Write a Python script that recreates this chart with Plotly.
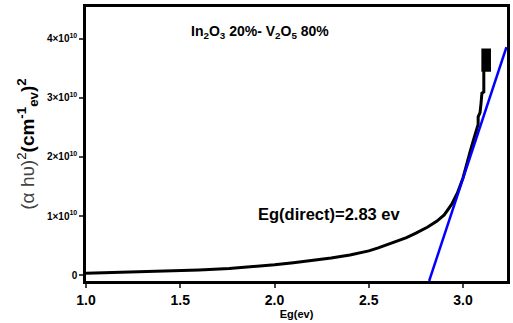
import plotly.graph_objects as go

# Measured curve (alpha h nu)^2 in units of 1e10
eg = [1.0, 1.2, 1.4, 1.6, 1.76, 1.86, 2.0, 2.1, 2.18, 2.3, 2.4, 2.5, 2.55, 2.6, 2.65, 2.7, 2.75,
      2.81, 2.86, 2.9, 2.94, 2.97, 3.0, 3.02, 3.04, 3.06, 3.07, 3.08, 3.08, 3.09, 3.095,
      3.10, 3.11, 3.11, 3.105, 3.105, 3.14, 3.14, 3.13, 3.13, 3.12, 3.12, 3.115, 3.115, 3.11]
ahv2 = [0.03, 0.045, 0.06, 0.085, 0.11, 0.135, 0.175, 0.21, 0.24, 0.29, 0.34, 0.41, 0.46, 0.52,
        0.575, 0.635, 0.71, 0.81, 0.91, 1.02, 1.2, 1.39, 1.65, 1.9, 2.12, 2.34, 2.45, 2.55, 2.68, 2.75,
        2.9, 3.08, 3.1, 3.47, 3.47, 3.81, 3.81, 3.47, 3.47, 3.81, 3.81, 3.47, 3.47, 3.81, 3.81]

# Tangent (linear fit) line
fit_x = [2.82, 3.23]
fit_y = [-0.1, 3.86]

ytick_vals = [0, 1, 2, 3, 4]
ytick_text = ["0", "1×10<sup>10</sup>", "2×10<sup>10</sup>", "3×10<sup>10</sup>", "4×10<sup>10</sup>"]
xtick_vals = [1.0, 1.5, 2.0, 2.5, 3.0]
xtick_text = ["1.0", "1.5", "2.0", "2.5", "3.0"]

fig = go.Figure()
fig.add_trace(go.Scatter(x=eg, y=ahv2, mode="lines",
                         line=dict(color="black", width=3), showlegend=False))
fig.add_trace(go.Scatter(x=fit_x, y=fit_y, mode="lines",
                         line=dict(color="#0000ff", width=2.5), showlegend=False))

font_b = "Liberation Sans"

fig.update_layout(
    width=513, height=323,
    margin=dict(l=86, r=3, t=7, b=42),
    paper_bgcolor="white", plot_bgcolor="white",
    font=dict(family=font_b, color="black"),
    xaxis=dict(range=[1.0, 3.233], tickvals=xtick_vals, ticktext=["<b>%s</b>" % t for t in xtick_text],
               tickfont=dict(size=14, family=font_b), ticks="outside", ticklen=4, tickwidth=2,
               showline=True, linewidth=2.5, linecolor="black", mirror=True, showgrid=False,
               zeroline=False,
               title=dict(text="<b>Eg(ev)</b>", font=dict(size=11, family=font_b), standoff=4)),
    yaxis=dict(range=[-0.1, 4.54], tickvals=ytick_vals, ticktext=["<b>%s</b>" % t for t in ytick_text],
               tickfont=dict(size=10, family=font_b), ticks="outside", ticklen=4, tickwidth=2,
               showline=True, linewidth=2.5, linecolor="black", mirror=True, showgrid=False,
               zeroline=False,
               title=dict(text="<span style='color:#444'>(α hυ)</span><sup>2</sup><b>(cm<sup>-1</sup><sub>ev</sub>)<sup>2</sup></b>",
                          font=dict(size=19, family=font_b), standoff=8)),
)
fig.add_annotation(x=1.545, y=4.12, xref="x", yref="y", xanchor="left", yanchor="middle",
                   text="<b>In<sub>2</sub>O<sub>3</sub> 20%- V<sub>2</sub>O<sub>5</sub> 80%</b>",
                   showarrow=False, font=dict(size=14, family=font_b))
fig.add_annotation(x=2.68, y=1.03, xref="x", yref="y", xanchor="right", yanchor="middle",
                   text="<b>Eg(direct)=2.83 ev</b>",
                   showarrow=False, font=dict(size=16.5, family=font_b))

fig.write_html("out.html")
